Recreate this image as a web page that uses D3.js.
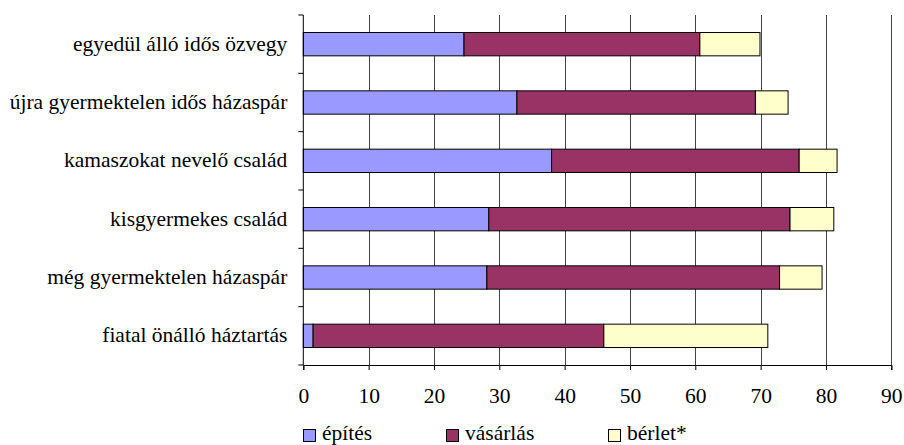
<!DOCTYPE html>
<html><head><meta charset="utf-8">
<script src="https://cdn.jsdelivr.net/npm/d3@7"></script>
<style>body{margin:0;background:#fff}svg{display:block}</style>
</head><body><svg id="c" width="904" height="445"></svg>
<script>
const categories = ["egyedül álló idős özvegy","újra gyermektelen idős házaspár","kamaszokat nevelő család","kisgyermekes család","még gyermektelen házaspár","fiatal önálló háztartás"];
const seriesNames = ["építés","vásárlás","bérlet*"];
const epites   = [24.6, 32.7, 38.0, 28.4, 28.1, 1.5];
const vasarlas = [36.1, 36.5, 37.9, 46.1, 44.8, 44.5];
const berlet   = [9.2, 5.0, 5.8, 6.7, 6.5, 25.1];
const xTicks = [0,10,20,30,40,50,60,70,80,90];
const colors = ["#9999FF","#993366","#FFFFCC"];

const FONT = "Liberation Serif";
const rows = categories.map((c,i)=>({cat:c, "építés":epites[i], "vásárlás":vasarlas[i], "bérlet*":berlet[i]}));
const stack = d3.stack().keys(seriesNames)(rows);

const svg = d3.select("#c");
const L=303.3, R=891.3, T=15, B=365;
const x = d3.scaleLinear().domain([0,90]).range([L,R]);
const y = d3.scaleBand().domain(categories).range([T,B]).paddingInner(0.6).paddingOuter(0.3);
const FS = 21.5;

// gridlines
svg.append("g").selectAll("line").data(xTicks.filter(d=>d>0)).join("line")
  .attr("x1",d=>Math.round(x(d))+0.5).attr("x2",d=>Math.round(x(d))+0.5)
  .attr("y1",T).attr("y2",B).attr("stroke","#444").attr("stroke-width",1);

// bars
svg.append("g").selectAll("g").data(stack).join("g")
  .attr("fill",(d,i)=>colors[i])
  .selectAll("rect").data(d=>d).join("rect")
  .attr("x",d=>x(d[0])).attr("width",d=>x(d[1])-x(d[0]))
  .attr("y",d=>y(d.data.cat)).attr("height",y.bandwidth())
  .attr("stroke","#000").attr("stroke-width",1);

// x axis
const xa = svg.append("g").attr("transform",`translate(0,${B})`)
  .call(d3.axisBottom(x).tickValues(xTicks).tickSize(5).tickPadding(18).tickFormat(d3.format("d")));
xa.attr("font-family",FONT).attr("font-size",FS);
xa.select(".domain").attr("stroke","#000");
xa.selectAll("line").attr("stroke","#000");
xa.selectAll("text").attr("fill","#000");

// y axis
const yBounds = d3.range(categories.length+1).map(i=>T+i*(B-T)/categories.length);
const ya = svg.append("g").attr("transform",`translate(${L},0)`);
ya.append("line").attr("x1",0).attr("x2",0).attr("y1",T).attr("y2",B).attr("stroke","#000");
ya.selectAll("line.t").data(yBounds).join("line").attr("class","t")
  .attr("x1",-5).attr("x2",0).attr("y1",d=>d).attr("y2",d=>d).attr("stroke","#000");
ya.selectAll("text").data(categories).join("text")
  .attr("x",-16).attr("y",d=>y(d)+y.bandwidth()/2).attr("dy","0.3em")
  .attr("text-anchor","end").attr("font-size",FS).attr("font-family",FONT).attr("fill","#000").text(d=>d);

// legend
const legX = [303, 446, 608];
const lg = svg.append("g").selectAll("g").data(seriesNames).join("g")
  .attr("transform",(d,i)=>`translate(${legX[i]},429)`);
lg.append("rect").attr("x",0.5).attr("y",0.5).attr("width",12).attr("height",12)
  .attr("fill",(d,i)=>colors[i]).attr("stroke","#000");
lg.append("text").attr("x",19).attr("y",10.5).attr("font-size",FS)
  .attr("font-family",FONT).attr("fill","#000").text(d=>d);
</script></body></html>
